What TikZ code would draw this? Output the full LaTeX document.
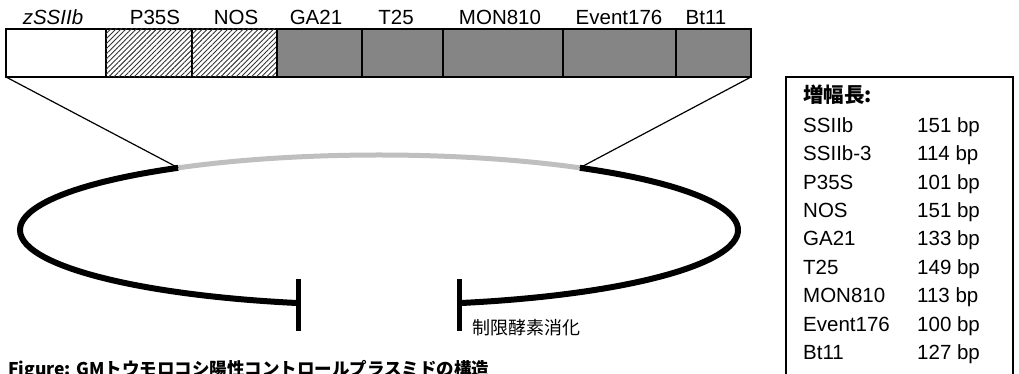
\documentclass[tikz,border=0pt]{standalone}
\usepackage{fontspec}
\setmainfont{Liberation Sans}
\newfontfamily\cjk{Noto Sans CJK JP}
\usetikzlibrary{patterns.meta}
\begin{document}
\begin{tikzpicture}[x=1pt,y=1pt,
  seg/.style={draw, line width=1.6pt, minimum height=48pt, anchor=south west, inner sep=0pt, outer sep=0pt},
  hatch/.style={fill=white, postaction={pattern={Lines[angle=45,distance=3.6pt,line width=0.9pt]}, pattern color=black!80}},
  dotfill/.style={fill=black!48},
  lab/.style={font=\fontsize{20.5}{24}\selectfont, anchor=base, inner sep=0pt},
  row/.style={font=\fontsize{20.5}{24}\selectfont, anchor=base west, inner sep=0pt},
  plasmid/.style={line width=6pt},
  insert/.style={line width=5pt, draw=black!25},
  cutbar/.style={line width=5pt},
  zoomline/.style={line width=1.2pt}
]
\useasboundingbox (0,0) rectangle (1019,374);
\clip (0,0) rectangle (1019,374);

% top bar segments
\node[seg, minimum width=100pt] (b1) at (6,297) {};
\node[seg, hatch, minimum width=86pt] (b2) at (106,297) {};
\node[seg, hatch, minimum width=85pt] (b3) at (192,297) {};
\node[seg, dotfill, minimum width=85pt] (b4) at (277,297) {};
\node[seg, dotfill, minimum width=81pt] (b5) at (362,297) {};
\node[seg, dotfill, minimum width=120pt] (b6) at (443,297) {};
\node[seg, dotfill, minimum width=113pt] (b7) at (563,297) {};
\node[seg, dotfill, minimum width=75pt] (b8) at (676,297) {};

% labels
\node[lab] (l1) at (53,349) {\itshape zSSIIb};
\node[lab] (l2) at (155,349) {P35S};
\node[lab] (l3) at (236,349) {NOS};
\node[lab] (l4) at (316,349) {GA21};
\node[lab] (l5) at (396,349) {T25};
\node[lab] (l6) at (500,349) {MON810};
\node[lab] (l7) at (619,349) {Event176};
\node[lab] (l8) at (706,349) {Bt11};

% plasmid
\coordinate (c) at (379,144);
\path (c) ++(124:359pt and 75pt) coordinate (eL);
\path (c) ++(56:359pt and 75pt) coordinate (eR);
\path (c) ++(257:359pt and 75pt) coordinate (g1);
\path (c) ++(283:359pt and 75pt) coordinate (g2);
\draw[plasmid] (eL) arc[start angle=124,end angle=257,x radius=359,y radius=75];
\draw[plasmid] (g2) arc[start angle=283,end angle=416,x radius=359,y radius=75];
\draw[insert] (eR) arc[start angle=56,end angle=124,x radius=359,y radius=75];

% cut bars
\draw[cutbar] ([yshift=24pt]g1) -- ([yshift=-28pt]g1);
\draw[cutbar] ([yshift=24pt]g2) -- ([yshift=-28pt]g2);
\node[anchor=west, inner sep=0pt, font=\cjk\fontsize{18}{20}\selectfont] (cut) at (472,46) {制限酵素消化};

% zoom lines
\draw[zoomline] (b1.south west) -- (eL);
\draw[zoomline] (b8.south east) -- (eR);

% legend box
\draw[line width=1.3pt] (786,-10) rectangle (1013,297);
\node[anchor=base west, inner sep=0pt, font=\cjk\bfseries\fontsize{20.5}{24}\selectfont] (t0) at (803,271) {増幅長:};
\foreach \n/\v [count=\i from 0] in {SSIIb/151,SSIIb-3/114,P35S/101,NOS/151,GA21/133,T25/149,MON810/113,Event176/100,Bt11/127}{
  \node[row] (n\i) at (803,{374-132.4-28.4*\i}) {\n};
  \node[row] (v\i) at (917,{374-132.4-28.4*\i}) {\v{} bp};
}

% caption
\node[anchor=base west, inner sep=0pt, font=\cjk\bfseries\fontsize{17.5}{20}\selectfont] (cap) at (8,-2) {Figure: GMトウモロコシ陽性コントロールプラスミドの構造};
\end{tikzpicture}
\end{document}
